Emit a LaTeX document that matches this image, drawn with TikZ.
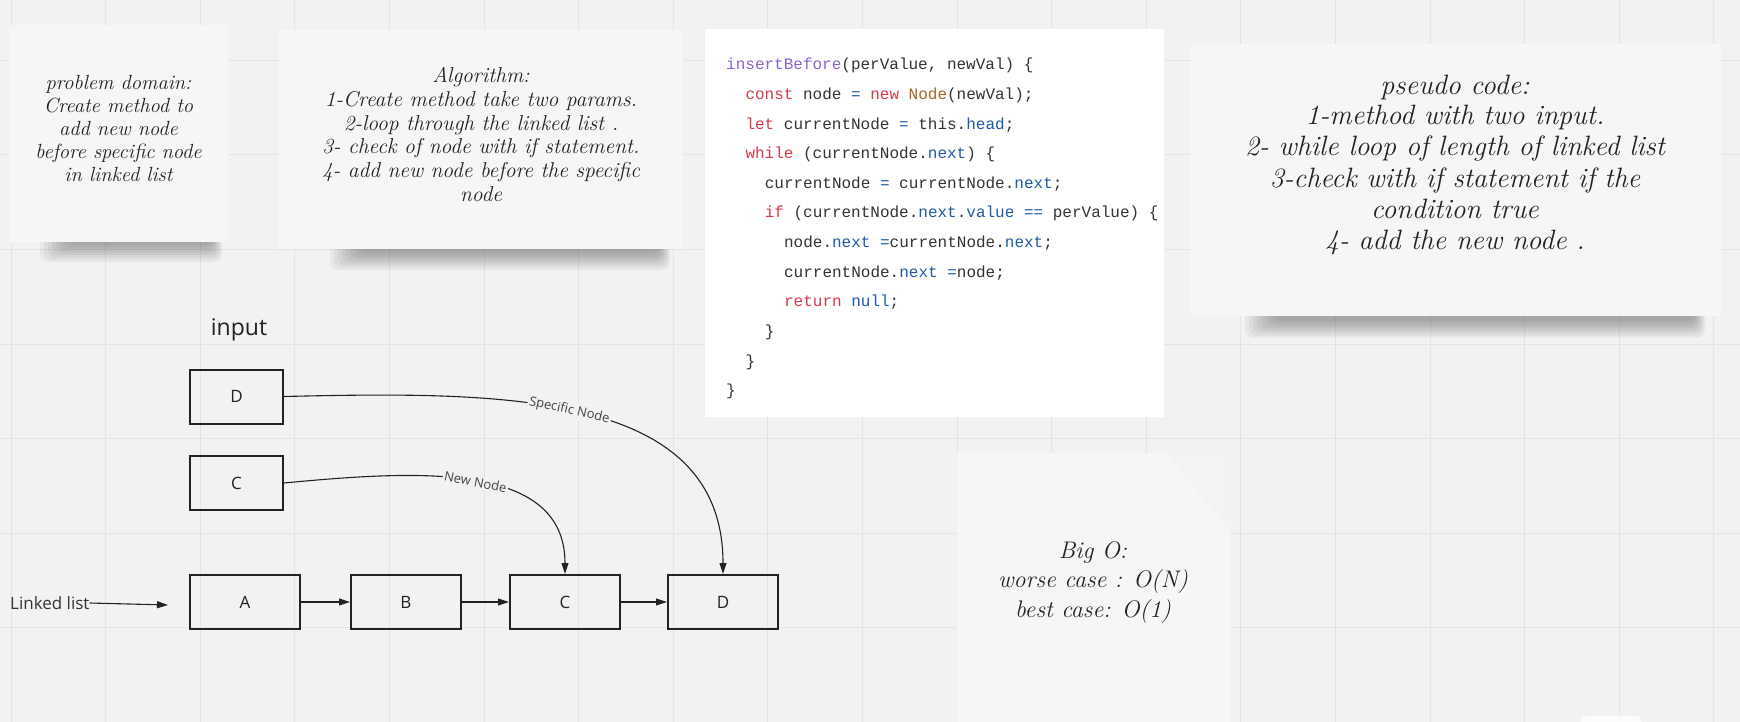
\documentclass[tikz,border=0pt]{standalone}
\usepackage{fontspec}
\setsansfont{Open Sans}
\setmonofont{Liberation Mono}
\usepackage{xcolor}
\definecolor{boardgray}{HTML}{F2F2F2}
\definecolor{gridgray}{HTML}{E4E4E4}
\definecolor{notefill}{HTML}{F5F6F8}
\definecolor{inkgray}{HTML}{222222}
\definecolor{labelgray}{HTML}{444444}
\definecolor{codetext}{HTML}{333333}
\definecolor{codepurple}{HTML}{8A63D2}
\definecolor{codered}{HTML}{D73A49}
\definecolor{codebrown}{HTML}{A8642A}
\definecolor{codeblue}{HTML}{1F5AA6}
\usepackage{tikz}
\usetikzlibrary{arrows.meta, positioning, calc}

\newcommand{\codekw}[1]{\textcolor{codered}{#1}}
\newcommand{\codefn}[1]{\textcolor{codepurple}{#1}}
\newcommand{\codety}[1]{\textcolor{codebrown}{#1}}
\newcommand{\codeprop}[1]{\textcolor{codeblue}{#1}}

\tikzstyle{note} = [
  rectangle, fill=notefill, draw=none, inner sep=0pt
]
\tikzstyle{shadowlayer} = [
  fill=black, opacity=0.045, rounded corners=8pt
]
\tikzstyle{handtext} = [
  align=center, text=inkgray, inner sep=0pt
]
\tikzstyle{codeline} = [
  anchor=base west, inner sep=0pt, text=codetext,
  font=\ttfamily\fontsize{16}{20}\selectfont
]
\tikzstyle{listnode} = [
  rectangle, draw=inkgray, line width=2pt,
  minimum width=110pt, minimum height=54pt,
  text=inkgray, font=\sffamily\fontsize{17}{20}\selectfont
]
\tikzstyle{inputnode} = [listnode, minimum width=93pt]
\tikzstyle{arrow} = [
  -{Triangle[length=11pt, width=7pt]}, line width=1.1pt, color=inkgray
]
\tikzstyle{edgelabel} = [
  fill=boardgray, inner sep=1.5pt, text=labelgray,
  font=\sffamily\fontsize{13}{15}\selectfont
]

\begin{document}
\begin{tikzpicture}[x=1pt, y=-1pt]
  \useasboundingbox (0,0) rectangle (1740,722);

  % ── Board ─────────────────────────────────────────────
  \fill[boardgray] (0,0) rectangle (1740,722);
  \foreach \gx in {0,...,18}
    \draw[gridgray, line width=1pt] ({11+94.6*\gx},0) -- ++(0,722);
  \foreach \gy in {0,...,7}
    \draw[gridgray, line width=1pt] (0,{60.2+94.6*\gy}) -- ++(1740,0);

  % ── Note shadows (under the paper) ────────────────────
  \foreach \k in {0,...,7} {
    \fill[shadowlayer] ({40+4*\k},236) rectangle ({222-1.5*\k},{262-2.4*\k});
    \fill[shadowlayer] ({330+4*\k},243) rectangle ({670-1.5*\k},{270-2.4*\k});
    \fill[shadowlayer] ({1245+4*\k},310) rectangle ({1705-1.5*\k},{338-2.4*\k});
  }

  % ── Sticky notes ──────────────────────────────────────
  \node[note, minimum width=219pt, minimum height=217pt]
    (domainnote) at (118.5,133.5) {};
  \node[handtext, font=\itshape\fontsize{20.5}{23}\selectfont]
    (domaintext) at (118.5,128)
    {problem domain:\\Create method to\\add new node\\before specific node\\in linked list};

  \node[note, minimum width=404pt, minimum height=219pt]
    (algonote) at (481,139.5) {};
  \node[handtext, font=\itshape\fontsize{21.5}{23.8}\selectfont]
    (algotext) at (481,134.5)
    {Algorithm:\\1-Create method take two params.\\2-loop through the linked list .\\
     3- check of node with if statement.\\4- add new node before the specific\\node};

  \node[note, minimum width=531pt, minimum height=272pt]
    (pseudonote) at (1455.5,180) {};
  \node[handtext, font=\itshape\fontsize{28}{31}\selectfont]
    (pseudotext) at (1455,164.5)
    {pseudo code:\\1-method with two input.\\2- while loop of length of linked list\\
     3-check with if statement if the\\condition true\\4- add the new node .};

  \node[note, anchor=north, minimum width=274pt, minimum height=270pt]
    (bigonote) at (1094,453) {};
  \fill[black, opacity=0.012] (1165,453) -- (1231,453) -- (1231,532) -- cycle;
  \node[handtext, font=\itshape\fontsize{24}{29.5}\selectfont]
    (bigotext) at (1093,582.5)
    {Big O:\\worse case : O(N)\\best case: O(1)};

  % ── Code snippet ──────────────────────────────────────
  \node[fill=white, inner sep=0pt, minimum width=459pt, minimum height=388pt]
    (codebox) at (934.5,223) {};
  \node[codeline] (code1)  at (726,70)
    {\codefn{insertBefore}(perValue, newVal) \{};
  \node[codeline] (code2)  at (745.3,99.6)
    {\codekw{const} node \codeprop{=} \codekw{new} \codety{Node}(newVal);};
  \node[codeline] (code3)  at (745.3,129.2)
    {\codekw{let} currentNode \codeprop{=} this.\codeprop{head};};
  \node[codeline] (code4)  at (745.3,158.8)
    {\codekw{while} (currentNode.\codeprop{next}) \{};
  \node[codeline] (code5)  at (764.6,188.4)
    {currentNode \codeprop{=} currentNode.\codeprop{next};};
  \node[codeline] (code6)  at (764.6,218)
    {\codekw{if} (currentNode.\codeprop{next}.\codeprop{value} \codeprop{==} perValue) \{};
  \node[codeline] (code7)  at (783.9,247.6)
    {node.\codeprop{next} \codeprop{=}currentNode.\codeprop{next};};
  \node[codeline] (code8)  at (783.9,277.2)
    {currentNode.\codeprop{next} \codeprop{=}node;};
  \node[codeline] (code9)  at (783.9,306.8)
    {\codekw{return} \codeprop{null};};
  \node[codeline] (code10) at (764.6,336.4) {\}};
  \node[codeline] (code11) at (745.3,366)   {\}};
  \node[codeline] (code12) at (726,395.6)   {\}};

  % ── Input nodes ───────────────────────────────────────
  \node[font=\sffamily\fontsize{23}{26}\selectfont, text=inkgray]
    (inputlbl) at (239,330) {input};
  \node[inputnode] (inD) at (236.5,396.5) {D};
  \node[inputnode] (inC) at (236.5,483)   {C};

  % ── Linked list ───────────────────────────────────────
  \node[listnode] (listA) at (245,602) {A};
  \node[listnode, right=49pt of listA] (listB) {B};
  \node[listnode, right=47pt of listB] (listC) {C};
  \node[listnode, right=46pt of listC] (listD) {D};

  \node[anchor=west, text=codetext, inner sep=0pt,
        font=\sffamily\fontsize{17}{20}\selectfont]
    (linkedlbl) at (10,603) {Linked list};
  \coordinate (listin) at (168,605);

  % ── Arrows ────────────────────────────────────────────
  \draw[arrow] (linkedlbl.east) -- (listin);
  \draw[arrow] (listA) -- (listB);
  \draw[arrow] (listB) -- (listC);
  \draw[arrow] (listC) -- (listD);

  \draw[arrow] (inD.east) .. controls +(216,-5) and +(0,-184) .. (listD.north)
    node[edgelabel, sloped, pos=0.47] {Specific Node};
  \draw[arrow] (inC.east) .. controls +(136,-13) and +(0,-112) .. (listC.north)
    node[edgelabel, sloped, pos=0.5] {New Node};

  % bottom-right corner of the board
  \fill[white, opacity=0.8, rounded corners=4pt] (1581,716) rectangle (1641,728);

\end{tikzpicture}
\end{document}
